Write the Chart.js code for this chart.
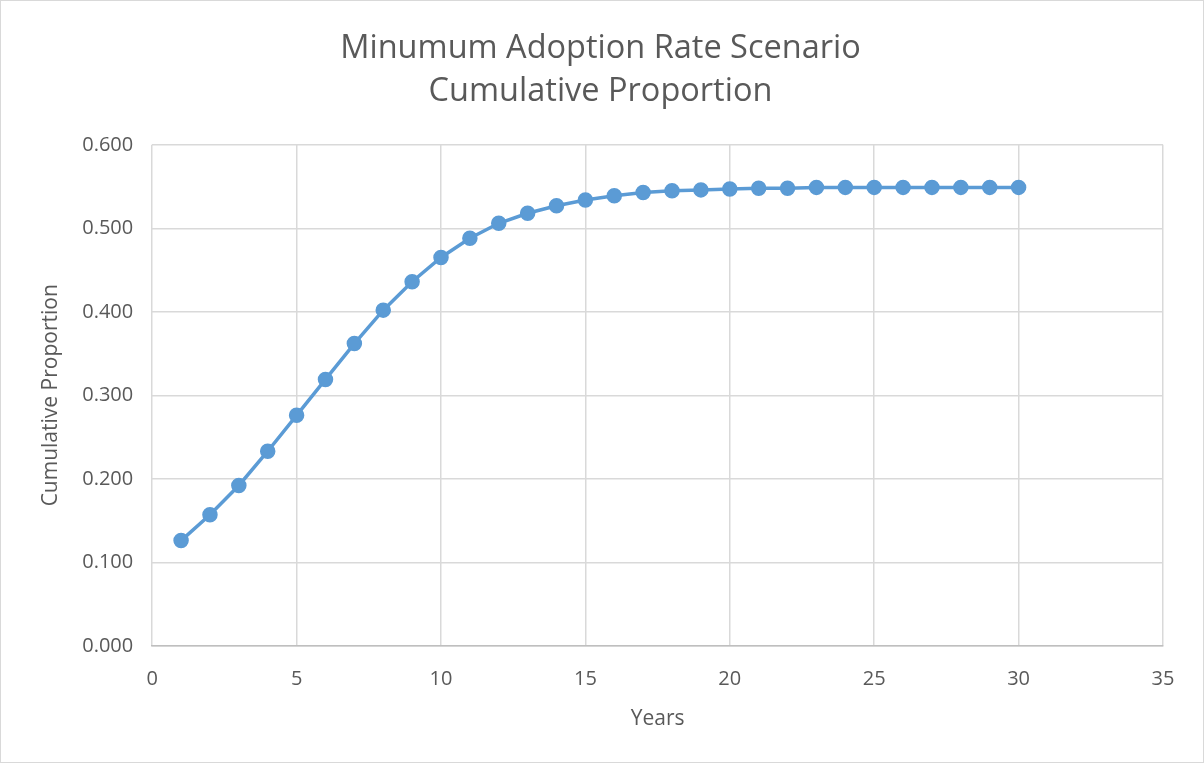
<!DOCTYPE html>
<html>
<head>
<meta charset="utf-8">
<script src="https://cdn.jsdelivr.net/npm/chart.js@4"></script>
<style>
  html, body { margin: 0; padding: 0; background: #ffffff; }
  #wrap { width: 1202px; height: 761px; border: 1px solid #d9d9d9; position: relative; }
</style>
</head>
<body>
<div id="wrap"><canvas id="chart"></canvas></div>
<script>
const years = [1, 2, 3, 4, 5, 6, 7, 8, 9, 10, 11, 12, 13, 14, 15, 16, 17, 18, 19, 20, 21, 22, 23, 24, 25, 26, 27, 28, 29, 30];
const cumulativeProportion = [
  0.126, 0.157, 0.192, 0.233, 0.276, 0.319, 0.362, 0.402, 0.436, 0.465,
  0.488, 0.506, 0.518, 0.527, 0.534, 0.539, 0.543, 0.545, 0.546, 0.547,
  0.548, 0.548, 0.549, 0.549, 0.549, 0.549, 0.549, 0.549, 0.549, 0.549
];
const titleLines = ["Minumum Adoption Rate Scenario", "Cumulative Proportion"];

const font = "'Open Sans', sans-serif";
const textColor = "#595959";

new Chart(document.getElementById("chart"), {
  type: "scatter",
  data: {
    datasets: [
      {
        label: "Cumulative Proportion",
        data: years.map((y, i) => ({ x: y, y: cumulativeProportion[i] })),
        showLine: true,
        borderColor: "#5b9bd5",
        backgroundColor: "#5b9bd5",
        borderWidth: 3.5,
        pointRadius: 7,
        pointBorderWidth: 1.5,
        pointHoverRadius: 7,
      },
    ],
  },
  options: {
    responsive: true,
    maintainAspectRatio: false,
    animation: false,
    layout: {
      padding: { left: 37, right: 40, top: 26, bottom: 30 },
    },
    scales: {
      x: {
        type: "linear",
        min: 0,
        max: 35,
        ticks: { stepSize: 5, color: textColor, font: { family: font, size: 20 }, padding: 21 },
        grid: { color: "#d9d9d9", lineWidth: 1.5, drawTicks: false },
        border: { color: "#bfbfbf", width: 1.5 },
        title: {
          display: true,
          text: "Years",
          color: textColor,
          font: { family: font, size: 21 },
          padding: { top: -5, bottom: 0 },
        },
      },
      y: {
        min: 0,
        max: 0.6,
        ticks: {
          stepSize: 0.1,
          color: textColor,
          font: { family: font, size: 20 },
          padding: 19,
          callback: (v) => v.toFixed(3),
        },
        grid: { color: "#d9d9d9", lineWidth: 1.5, drawTicks: false },
        border: { display: false },
        title: {
          display: true,
          text: "Cumulative Proportion",
          color: textColor,
          font: { family: font, size: 21 },
          padding: { top: 0, bottom: 0 },
        },
      },
    },
    plugins: {
      legend: { display: false },
      tooltip: { enabled: false },
      title: {
        display: true,
        text: titleLines,
        color: textColor,
        font: { family: font, size: 32.5, weight: "normal", lineHeight: 1.32 },
        padding: { top: 0, bottom: 32 },
      },
    },
  },
});
</script>
</body>
</html>
